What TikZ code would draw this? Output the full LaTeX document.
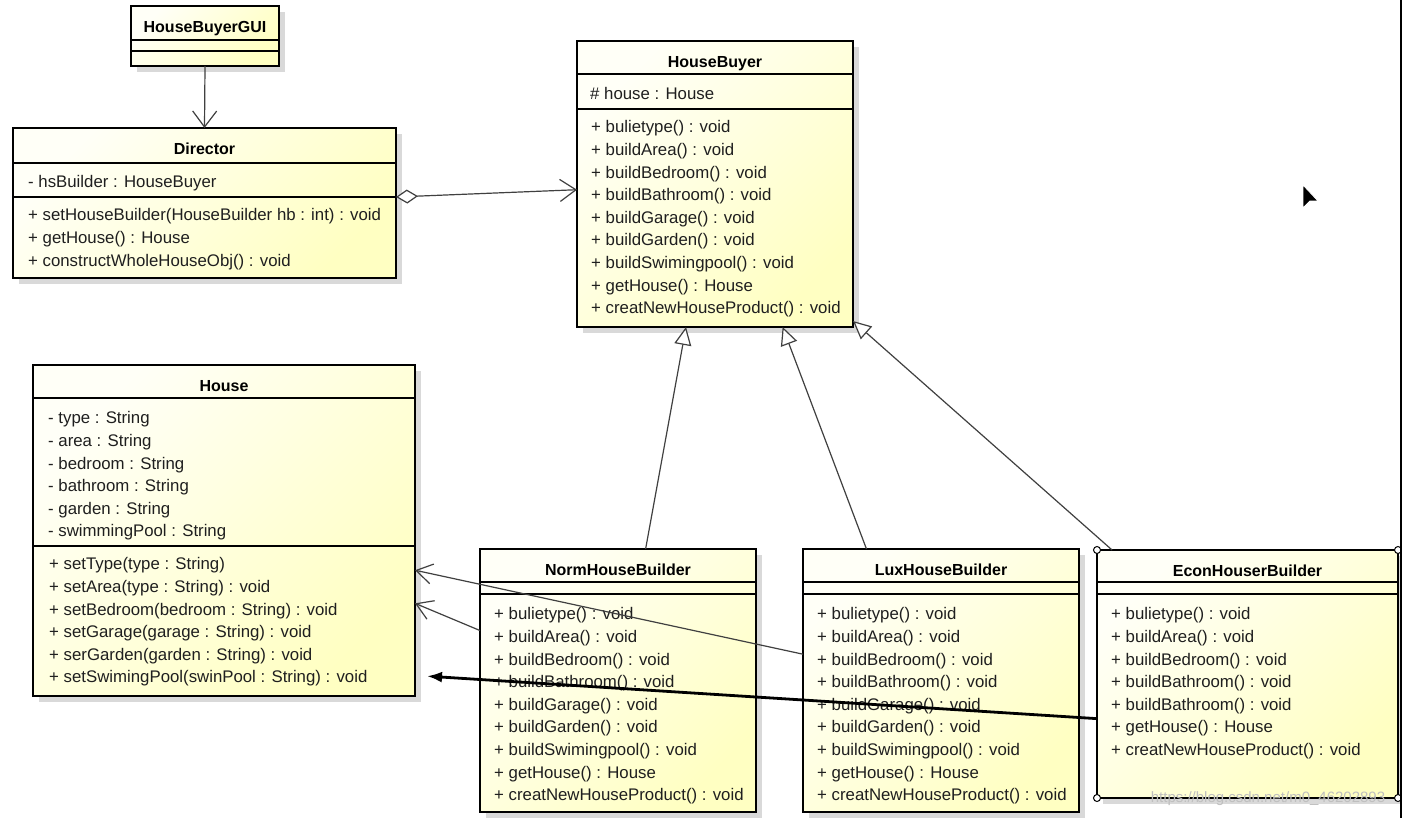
\documentclass[tikz,border=0pt]{standalone}
\usepackage{fontspec}
\setmainfont{Liberation Sans}
\usetikzlibrary{calc,arrows.meta,shadows}
\def\umlclass(#1,#2,#3,#4,#5,#6){
  \node[classbox, minimum width=#4, minimum height=#5, anchor=north west] (#1) at (#2,#3) {};
  \node[classtitle] (#1_t) at ([yshift=-20.5pt]#1.north) {#6};
}
\def\umlsep(#1,#2){
  \draw[sepline] ([yshift=-#2pt]#1.north west) -- ([yshift=-#2pt]#1.north east);
}
\def\umllist(#1,#2,#3,#4){
  \foreach \txt [count=\k] in {#4}
    \node[member] (#1_\k) at (#2,{#3+(\k-1)*22.6}) {\txt};
}

\begin{document}
\begin{tikzpicture}[x=1pt, y=-1pt,
  classbox/.style={draw=black, line width=2.4pt, outer sep=0pt, inner sep=0pt,
    top color=yellow!3, bottom color=yellow!24, shading angle=45,
    drop shadow={shadow xshift=6pt, shadow yshift=-6pt, fill=black!15, opacity=1}},
  classtitle/.style={font=\bfseries\fontsize{16}{20}\selectfont, inner sep=0pt, text height=11.5pt, text depth=0pt},
  member/.style={font=\fontsize{16.8}{20}\selectfont, text=black!88, anchor=west, inner sep=0pt, text height=11.8pt, text depth=0pt},
  sepline/.style={line width=1.4pt, black},
  conn/.style={line width=1.2pt, black!75},
  assoc/.style={conn, -{Straight Barb[length=16pt, width=24pt]}},
  aggr/.style={conn, {Diamond[length=22pt, width=14pt, fill=white]}-{Straight Barb[length=16pt, width=22pt]}},
  gener/.style={conn, -{Triangle[length=18pt, width=17pt, fill=white]}},
  depend/.style={conn, -{Straight Barb[length=16pt, width=20pt]}},
  usage/.style={line width=2.8pt, black, -{Latex[length=15pt, width=11pt]}},
  handle/.style={draw=black, fill=white, line width=1pt},
  wmark/.style={font=\fontsize{15}{18}\selectfont, text=black!25, inner sep=0pt}]
\useasboundingbox (0,0) rectangle (1402,818);
\fill[white] (0,0) rectangle (1402,818);

\umlclass(gui,131,6,148,60,HouseBuyerGUI)
\umlsep(gui,34)
\umlsep(gui,45)

\umlclass(dir,13,128,383,150,Director)
\umlsep(dir,35)
\umlsep(dir,69)
\umllist(dira,28,182,{- hsBuilder : HouseBuyer})
\umllist(dirm,28,215,{+ setHouseBuilder(HouseBuilder hb : int) : void, + getHouse() : House, + constructWholeHouseObj() : void})

\umlclass(hb,577,41,276,286,HouseBuyer)
\umlsep(hb,33)
\umlsep(hb,68)
\umllist(hba,590,94,{\# house : House})
\umllist(hbm,591,127,{+ bulietype() : void, + buildArea() : void, + buildBedroom() : void, + buildBathroom() : void, + buildGarage() : void, + buildGarden() : void, + buildSwimingpool() : void, + getHouse() : House, + creatNewHouseProduct() : void})

\umlclass(house,33,365,382,331,House)
\umlsep(house,33)
\umlsep(house,181)
\umllist(housea,48,418,{- type : String, - area : String, - bedroom : String, - bathroom : String, - garden : String, - swimmingPool : String})
\umllist(housem,49,564,{+ setType(type : String), + setArea(type : String) : void, + setBedroom(bedroom : String) : void, + setGarage(garage : String) : void, + serGarden(garden : String) : void, + setSwimingPool(swinPool : String) : void})

\umlclass(norm,480,549,276,263,NormHouseBuilder)
\umlsep(norm,33)
\umlsep(norm,45)
\umllist(normm,494,614,{+ bulietype() : void, + buildArea() : void, + buildBedroom() : void, + buildBathroom() : void, + buildGarage() : void, + buildGarden() : void, + buildSwimingpool() : void, + getHouse() : House, + creatNewHouseProduct() : void})

\umlclass(lux,803,549,276,263,LuxHouseBuilder)
\umlsep(lux,33)
\umlsep(lux,45)
\umllist(luxm,817,614,{+ bulietype() : void, + buildArea() : void, + buildBedroom() : void, + buildBathroom() : void, + buildGarage() : void, + buildGarden() : void, + buildSwimingpool() : void, + getHouse() : House, + creatNewHouseProduct() : void})

\umlclass(econ,1097,550,301,248,EconHouserBuilder)
\umlsep(econ,32)
\umlsep(econ,44)
\umllist(econm,1111,614,{+ bulietype() : void, + buildArea() : void, + buildBedroom() : void, + buildBathroom() : void, + buildBathroom() : void, + getHouse() : House, + creatNewHouseProduct() : void})

\draw[assoc] (gui.south) -- (dir.north);
\draw[aggr] ($(dir.north east)!0.46!(dir.south east)$) -- ($(hb.north west)!0.52!(hb.south west)$);
\draw[gener] ($(norm.north west)!0.6!(norm.north east)$) -- ($(hb.south west)!0.395!(hb.south east)$);
\draw[gener] ($(lux.north west)!0.23!(lux.north east)$) -- ($(hb.south west)!0.745!(hb.south east)$);
\draw[gener] ($(econ.north west)!0.05!(econ.north east)$) -- ([yshift=6pt]hb.south east);
\draw[depend] ($(lux.north west)!0.4!(lux.south west)$) -- ($(house.north east)!0.62!(house.south east)$);
\draw[depend] ($(norm.north west)!0.31!(norm.south west)$) -- ($(house.north east)!0.72!(house.south east)$);
\draw[usage] ($(econ.north west)!0.68!(econ.south west)$) -- ($(house.north east)!0.94!(house.south east)+(12,0)$);

\foreach \c in {north west, north east, south west, south east}
  \draw[handle] (econ.\c) circle (3.5);
\node[wmark] (wm) at (1268,799) {https://blog.csdn.net/m0\_46202893};

\fill[black, draw=white, line width=0.8pt] (1303,185) -- (1318,201) -- (1310,201) -- (1303,208) -- cycle;
\draw[line width=1.5pt] (1401,0) -- (1401,818);
\end{tikzpicture}
\end{document}
